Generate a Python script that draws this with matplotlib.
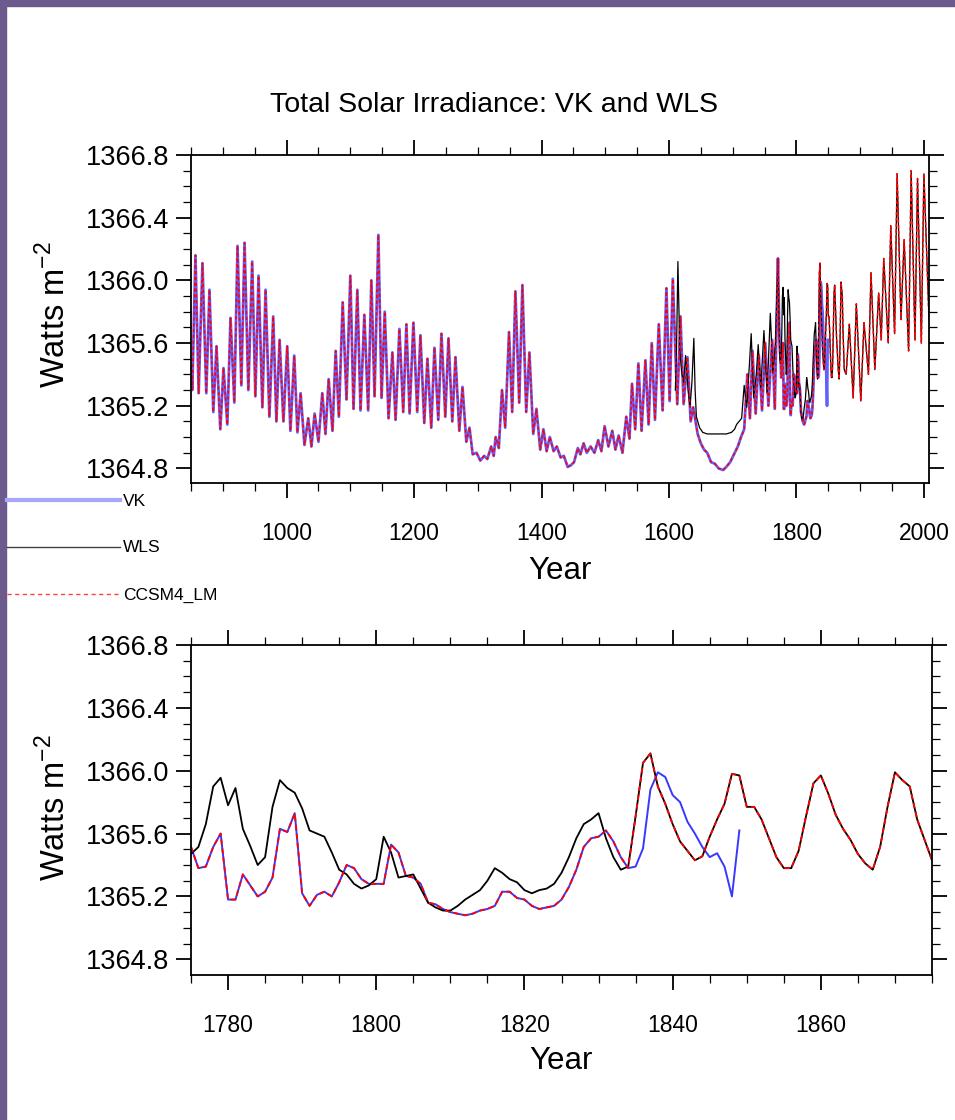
import numpy as np
import matplotlib
matplotlib.use('Agg')
import matplotlib.pyplot as plt
from matplotlib.lines import Line2D
from matplotlib.patches import Rectangle

plt.rcParams['font.family'] = ['Liberation Sans', 'DejaVu Sans']

# ---- VK reconstruction, cycle turning points 850-1774
vk_turn_years = [850, 852, 857, 862, 868, 874, 879, 885, 890, 896, 901, 907, 912, 918, 923, 929,
                 934, 940, 946, 951, 956, 962, 967, 973, 979, 984, 989, 995, 1001, 1006, 1012, 1017,
                 1022, 1028, 1034, 1039, 1044, 1050, 1056, 1061, 1066, 1072, 1077, 1082, 1088, 1094,
                 1100, 1105, 1111, 1116, 1122, 1128, 1133, 1138, 1144, 1149, 1154, 1160, 1166, 1171,
                 1177, 1183, 1188, 1193, 1199, 1205, 1210, 1216, 1221, 1227, 1232, 1238, 1243, 1249,
                 1254, 1260, 1265, 1271, 1276, 1282, 1287, 1292, 1298, 1304, 1310, 1315, 1321, 1325,
                 1328, 1333, 1338, 1343, 1349, 1354, 1359, 1365, 1370, 1376, 1381, 1387, 1392, 1398,
                 1403, 1408, 1413, 1419, 1424, 1430, 1435, 1441, 1446, 1451, 1457, 1461, 1466, 1471,
                 1477, 1483, 1489, 1494, 1499, 1505, 1511, 1516, 1521, 1527, 1533, 1538, 1542, 1547,
                 1552, 1557, 1563, 1568, 1573, 1578, 1584, 1590, 1596, 1601, 1606, 1613, 1618, 1623,
                 1629, 1634, 1638, 1645, 1650, 1655, 1660, 1666, 1672, 1678, 1685, 1690, 1696, 1702,
                 1708, 1713, 1718, 1723, 1727, 1731, 1736, 1741, 1746, 1751, 1756, 1762, 1766, 1771,
                 1773, 1774]
vk_turn_vals = [1365.45, 1365.30, 1366.16, 1365.28, 1366.11, 1365.28, 1365.94, 1365.16, 1365.58,
                1365.05, 1365.44, 1365.08, 1365.76, 1365.22, 1366.22, 1365.33, 1366.24, 1365.30,
                1366.12, 1365.26, 1366.03, 1365.19, 1365.94, 1365.13, 1365.77, 1365.10, 1365.62,
                1365.10, 1365.58, 1365.04, 1365.52, 1365.03, 1365.28, 1364.95, 1365.12, 1364.94,
                1365.15, 1364.97, 1365.28, 1365.02, 1365.37, 1365.04, 1365.55, 1365.13, 1365.86,
                1365.24, 1366.03, 1365.18, 1365.94, 1365.17, 1365.78, 1365.17, 1366.00, 1365.26,
                1366.29, 1365.25, 1365.80, 1365.12, 1365.54, 1365.11, 1365.69, 1365.16, 1365.72,
                1365.15, 1365.73, 1365.16, 1365.65, 1365.09, 1365.50, 1365.06, 1365.57, 1365.11,
                1365.66, 1365.13, 1365.63, 1365.10, 1365.51, 1365.04, 1365.32, 1364.97, 1365.06,
                1364.89, 1364.90, 1364.85, 1364.88, 1364.86, 1364.94, 1364.88, 1365.00, 1364.93,
                1365.30, 1365.06, 1365.67, 1365.16, 1365.93, 1365.22, 1365.97, 1365.16, 1365.54,
                1365.02, 1365.18, 1364.92, 1365.05, 1364.91, 1365.00, 1364.91, 1364.94, 1364.87,
                1364.88, 1364.81, 1364.82, 1364.84, 1364.93, 1364.89, 1364.96, 1364.90, 1364.94,
                1364.90, 1364.98, 1364.91, 1365.07, 1364.94, 1365.04, 1364.92, 1365.01, 1364.90,
                1365.13, 1364.99, 1365.34, 1365.05, 1365.47, 1365.04, 1365.49, 1365.08, 1365.60,
                1365.11, 1365.72, 1365.17, 1365.95, 1365.23, 1366.01, 1365.21, 1365.77, 1365.21,
                1365.51, 1365.10, 1365.19, 1365.02, 1364.96, 1364.92, 1364.90, 1364.84, 1364.83,
                1364.80, 1364.79, 1364.81, 1364.84, 1364.89, 1364.94, 1365.00, 1365.05, 1365.40,
                1365.12, 1365.55, 1365.15, 1365.52, 1365.17, 1365.60, 1365.20, 1365.62, 1365.18,
                1366.14, 1365.70, 1365.55]

# ---- WLS, turning points 1610-1774
wls_turn_years = [1610, 1612, 1614, 1617, 1620, 1623, 1626, 1630, 1633, 1636, 1639, 1641, 1643,
                  1648, 1653, 1660, 1670, 1680, 1690, 1698, 1703, 1706, 1710, 1714, 1718, 1722,
                  1726, 1729, 1733, 1737, 1740, 1744, 1749, 1754, 1759, 1763, 1767, 1771, 1773, 1774]
wls_turn_vals = [1365.30, 1365.60, 1366.12, 1365.55, 1365.41, 1365.35, 1365.52, 1365.30, 1365.19,
                 1365.35, 1365.63, 1365.30, 1365.13, 1365.06, 1365.03, 1365.02, 1365.02, 1365.02,
                 1365.02, 1365.03, 1365.05, 1365.08, 1365.10, 1365.12, 1365.33, 1365.19, 1365.45,
                 1365.66, 1365.25, 1365.40, 1365.59, 1365.31, 1365.68, 1365.28, 1365.79, 1365.41,
                 1365.60, 1366.14, 1365.65, 1365.50]

# ---- annual values 1775-1875
years_annual = list(range(1775, 1876))
wls_annual = [1365.47, 1365.515, 1365.66, 1365.90, 1365.955, 1365.78, 1365.89, 1365.63, 1365.52,
              1365.40, 1365.45, 1365.77, 1365.94, 1365.89, 1365.86, 1365.76, 1365.62, 1365.60,
              1365.58, 1365.48, 1365.37, 1365.34, 1365.28, 1365.25, 1365.27, 1365.31, 1365.58,
              1365.48, 1365.32, 1365.33, 1365.34, 1365.25, 1365.16, 1365.13, 1365.11, 1365.11,
              1365.14, 1365.18, 1365.21, 1365.24, 1365.30, 1365.38, 1365.35, 1365.31, 1365.29,
              1365.24, 1365.22, 1365.24, 1365.25, 1365.28, 1365.35, 1365.45, 1365.57, 1365.66,
              1365.69, 1365.73, 1365.57, 1365.45, 1365.37, 1365.39, 1365.71, 1366.05, 1366.11,
              1365.90, 1365.79, 1365.66, 1365.55, 1365.49, 1365.43, 1365.455, 1365.58, 1365.69,
              1365.79, 1365.98, 1365.97, 1365.77, 1365.77, 1365.69, 1365.57, 1365.45, 1365.38,
              1365.38, 1365.49, 1365.71, 1365.92, 1365.97, 1365.855, 1365.72, 1365.63, 1365.56,
              1365.47, 1365.41, 1365.37, 1365.515, 1365.77, 1365.99, 1365.94, 1365.90, 1365.69,
              1365.56, 1365.43]
vk_annual = [1365.515, 1365.38, 1365.39, 1365.515, 1365.60, 1365.18, 1365.18, 1365.34, 1365.27,
             1365.20, 1365.23, 1365.32, 1365.63, 1365.61, 1365.73, 1365.22, 1365.14, 1365.21,
             1365.23, 1365.20, 1365.29, 1365.40, 1365.38, 1365.31, 1365.28, 1365.28, 1365.28,
             1365.53, 1365.48, 1365.33, 1365.32, 1365.28, 1365.16, 1365.15, 1365.12, 1365.10,
             1365.09, 1365.08, 1365.09, 1365.11, 1365.12, 1365.14, 1365.23, 1365.23, 1365.19,
             1365.18, 1365.14, 1365.12, 1365.13, 1365.14, 1365.18, 1365.26, 1365.37, 1365.515,
             1365.57, 1365.58, 1365.62, 1365.55, 1365.45, 1365.38, 1365.39, 1365.505, 1365.88,
             1365.99, 1365.96, 1365.845, 1365.80, 1365.675, 1365.60, 1365.515, 1365.45, 1365.475,
             1365.39, 1365.20, 1365.62]          # ends 1849
ccsm_switch = 1835                               # CCSM4_LM follows VK before, WLS from here

# ---- WLS (= CCSM4_LM) turning points 1876-2008
modern_years = [1878, 1883, 1889, 1894, 1901, 1906, 1913, 1917, 1923, 1929, 1933, 1937, 1944,
                1948, 1954, 1958, 1964, 1969, 1976, 1980, 1986, 1990, 1996, 2000, 2008]
modern_vals = [1365.40, 1365.72, 1365.25, 1365.85, 1365.23, 1365.73, 1365.40, 1366.05, 1365.43,
               1365.92, 1365.62, 1366.14, 1365.60, 1366.35, 1365.66, 1366.68, 1365.75, 1366.26,
               1365.55, 1366.70, 1365.62, 1366.65, 1365.60, 1366.68, 1365.75]

ytick_vals = [1364.8, 1365.2, 1365.6, 1366.0, 1366.4, 1366.8]

# ---- assemble the series
n_vk = len(vk_annual)
k = years_annual.index(ccsm_switch)
vk_x = vk_turn_years + years_annual[:n_vk]
vk_y = vk_turn_vals + vk_annual
wls_x = wls_turn_years + years_annual + modern_years
wls_y = wls_turn_vals + wls_annual + modern_vals
ccsm_x = vk_turn_years + years_annual + modern_years
ccsm_y = vk_turn_vals + vk_annual[:k] + wls_annual[k:] + modern_vals

W, H = 955, 1120
fig = plt.figure(figsize=(W / 100, H / 100), dpi=100)

# purple screenshot frame
fig.patches.append(Rectangle((0, 0), 6 / W, 1, transform=fig.transFigure, color='#6c5a8e', zorder=0))
fig.patches.append(Rectangle((0, 1 - 6 / H), 1, 6 / H, transform=fig.transFigure, color='#6c5a8e', zorder=0))


def px_axes(l, t, r, b):
    return fig.add_axes([l / W, 1 - b / H, (r - l) / W, (b - t) / H])


def style(ax, xmaj, xmin):
    ax.set_xticks(xmaj)
    ax.set_xticks(xmin, minor=True)
    ax.set_yticks(ytick_vals)
    ax.set_yticks(np.arange(1364.8, 1366.85, 0.1), minor=True)
    ax.set_yticklabels(['%.1f' % v for v in ytick_vals])
    ax.tick_params(which='both', direction='out', top=True, right=True)
    ax.tick_params(which='major', length=11, width=1.3)
    ax.tick_params(which='minor', length=6, width=0.9)
    ax.tick_params(axis='x', pad=17, labelsize=16.5)
    ax.tick_params(axis='y', pad=5, labelsize=19.5)
    for s in ax.spines.values():
        s.set_linewidth(1.3)


ax1 = px_axes(191, 155, 929, 483)
ax1.plot(vk_x, vk_y, color='#6060ff', lw=2.0)
ax1.plot(wls_x, wls_y, color='black', lw=0.9)
ax1.plot(ccsm_x, ccsm_y, color='red', lw=1.1, dashes=(2.2, 1.6))
ax1.set_xlim(850, 2008)
ax1.set_ylim(1364.707, 1366.8)
style(ax1, list(range(1000, 2001, 200)), list(range(850, 2001, 50)))

ax2 = px_axes(191, 645, 932, 975)
ax2.plot(years_annual[:n_vk], vk_annual, color='#3838ff', lw=1.4)
ax2.plot(years_annual, wls_annual, color='black', lw=1.3)
ax2.plot(years_annual, vk_annual[:k] + wls_annual[k:], color='red', lw=1.3, dashes=(3, 2))
ax2.set_xlim(1775, 1875)
ax2.set_ylim(1364.70, 1366.8)
style(ax2, list(range(1780, 1861, 20)), list(range(1775, 1876, 5)))

fig.text(494 / W, 1 - 105 / H, 'Total Solar Irradiance: VK and WLS', fontsize=20.5,
         ha='center', va='center')
for yc in (315, 808):
    fig.text(55 / W, 1 - yc / H, 'Watts m$^{\\mathregular{-2}}$', fontsize=23.5, rotation=90,
             ha='center', va='center')
fig.text(560 / W, 1 - 571 / H, 'Year', fontsize=22.5, ha='center', va='center')
fig.text(561 / W, 1 - 1061 / H, 'Year', fontsize=22.5, ha='center', va='center')

# legend drawn below the upper panel, at the left edge
legend_items = [('VK', '#a8a8f8', 3.0, '-', 500),
                ('WLS', '#444444', 1.0, '-', 547),
                ('CCSM4_LM', '#ff4040', 1.0, '--', 594)]
for name, col, lw, ls, yp in legend_items:
    ln = Line2D([7 / W, 120 / W], [1 - yp / H, 1 - yp / H], transform=fig.transFigure,
                color=col, lw=lw, ls=ls, dashes=(3, 2.5) if ls == '--' else (None, None))
    fig.add_artist(ln)
    fig.text(123 / W, 1 - (yp + 1) / H, name, fontsize=12.5, ha='left', va='center')

fig.savefig('out.png', dpi=100)
